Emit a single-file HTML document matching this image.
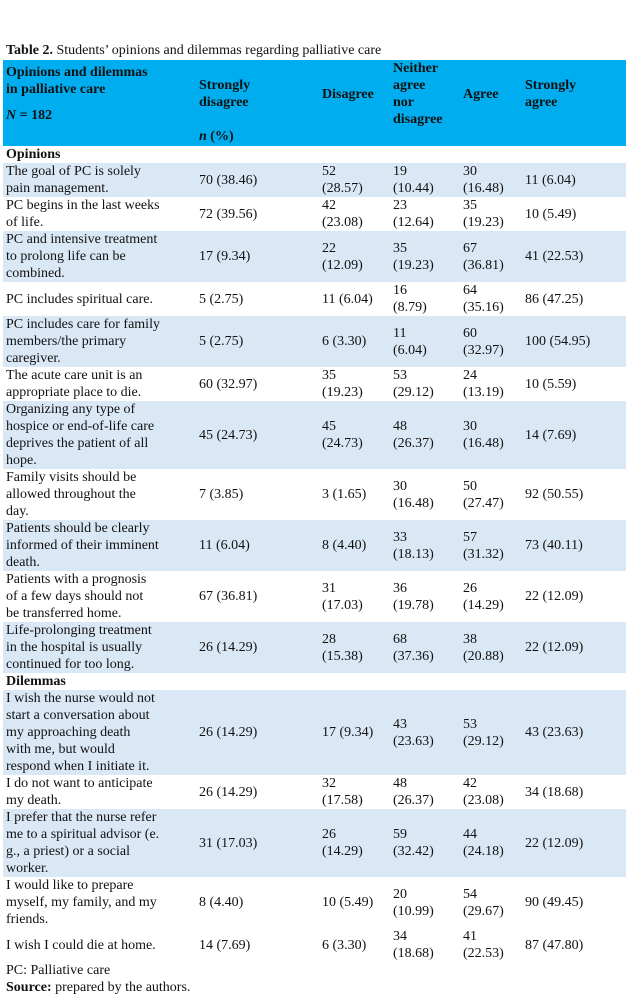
<!DOCTYPE html>
<html><head><meta charset="utf-8">
<style>
body{margin:0;width:630px;height:998px;background:#fff;font-family:"Liberation Serif",serif;font-size:14px;color:#111;position:relative;overflow:hidden}
#title{position:absolute;left:6px;top:42px;line-height:17px}
#hdr{position:absolute;left:3px;top:60px;width:623px;height:86px;background:#00AEEF;font-weight:bold;color:#111}
#hdr span{position:absolute;line-height:17px}
table{position:absolute;left:3px;top:146px;border-collapse:collapse;table-layout:fixed;width:623px}
td{padding:0 0 0 3px;line-height:17px;vertical-align:middle;white-space:nowrap}
tr.s td{background:#DAE8F6}
.sec td{font-weight:bold}
#foot{position:absolute;left:6px;top:962px;line-height:17px}
</style></head><body>
<div id="title"><b>Table 2.</b> Students’ opinions and dilemmas regarding palliative care</div>
<div id="hdr">
<span style="left:3px;top:4px">Opinions and dilemmas<br>in palliative care</span>
<span style="left:3px;top:47px"><i>N</i> = 182</span>
<span style="left:196px;top:17px">Strongly<br>disagree</span>
<span style="left:196px;top:68px"><i>n</i> (%)</span>
<span style="left:319px;top:26px">Disagree</span>
<span style="left:390px;top:0px">Neither<br>agree<br>nor<br>disagree</span>
<span style="left:460px;top:26px">Agree</span>
<span style="left:522px;top:17px">Strongly<br>agree</span>
</div>
<table>
<colgroup><col style="width:193px"><col style="width:123px"><col style="width:71px"><col style="width:70px"><col style="width:62px"><col style="width:104px"></colgroup>
<tr class="sec"><td colspan="6">Opinions</td></tr>
<tr class="s"><td>The goal of PC is solely<br>pain management.</td><td>70 (38.46)</td><td>52<br>(28.57)</td><td>19<br>(10.44)</td><td>30<br>(16.48)</td><td>11 (6.04)</td></tr>
<tr><td>PC begins in the last weeks<br>of life.</td><td>72 (39.56)</td><td>42<br>(23.08)</td><td>23<br>(12.64)</td><td>35<br>(19.23)</td><td>10 (5.49)</td></tr>
<tr class="s"><td>PC and intensive treatment<br>to prolong life can be<br>combined.</td><td>17 (9.34)</td><td>22<br>(12.09)</td><td>35<br>(19.23)</td><td>67<br>(36.81)</td><td>41 (22.53)</td></tr>
<tr><td>PC includes spiritual care.</td><td>5 (2.75)</td><td>11 (6.04)</td><td>16<br>(8.79)</td><td>64<br>(35.16)</td><td>86 (47.25)</td></tr>
<tr class="s"><td>PC includes care for family<br>members/the primary<br>caregiver.</td><td>5 (2.75)</td><td>6 (3.30)</td><td>11<br>(6.04)</td><td>60<br>(32.97)</td><td>100 (54.95)</td></tr>
<tr><td>The acute care unit is an<br>appropriate place to die.</td><td>60 (32.97)</td><td>35<br>(19.23)</td><td>53<br>(29.12)</td><td>24<br>(13.19)</td><td>10 (5.59)</td></tr>
<tr class="s"><td>Organizing any type of<br>hospice or end-of-life care<br>deprives the patient of all<br>hope.</td><td>45 (24.73)</td><td>45<br>(24.73)</td><td>48<br>(26.37)</td><td>30<br>(16.48)</td><td>14 (7.69)</td></tr>
<tr><td>Family visits should be<br>allowed throughout the<br>day.</td><td>7 (3.85)</td><td>3 (1.65)</td><td>30<br>(16.48)</td><td>50<br>(27.47)</td><td>92 (50.55)</td></tr>
<tr class="s"><td>Patients should be clearly<br>informed of their imminent<br>death.</td><td>11 (6.04)</td><td>8 (4.40)</td><td>33<br>(18.13)</td><td>57<br>(31.32)</td><td>73 (40.11)</td></tr>
<tr><td>Patients with a prognosis<br>of a few days should not<br>be transferred home.</td><td>67 (36.81)</td><td>31<br>(17.03)</td><td>36<br>(19.78)</td><td>26<br>(14.29)</td><td>22 (12.09)</td></tr>
<tr class="s"><td>Life-prolonging treatment<br>in the hospital is usually<br>continued for too long.</td><td>26 (14.29)</td><td>28<br>(15.38)</td><td>68<br>(37.36)</td><td>38<br>(20.88)</td><td>22 (12.09)</td></tr>
<tr class="sec"><td colspan="6">Dilemmas</td></tr>
<tr class="s"><td>I wish the nurse would not<br>start a conversation about<br>my approaching death<br>with me, but would<br>respond when I initiate it.</td><td>26 (14.29)</td><td>17 (9.34)</td><td>43<br>(23.63)</td><td>53<br>(29.12)</td><td>43 (23.63)</td></tr>
<tr><td>I do not want to anticipate<br>my death.</td><td>26 (14.29)</td><td>32<br>(17.58)</td><td>48<br>(26.37)</td><td>42<br>(23.08)</td><td>34 (18.68)</td></tr>
<tr class="s"><td>I prefer that the nurse refer<br>me to a spiritual advisor (e.<br>g., a priest) or a social<br>worker.</td><td>31 (17.03)</td><td>26<br>(14.29)</td><td>59<br>(32.42)</td><td>44<br>(24.18)</td><td>22 (12.09)</td></tr>
<tr><td>I would like to prepare<br>myself, my family, and my<br>friends.</td><td>8 (4.40)</td><td>10 (5.49)</td><td>20<br>(10.99)</td><td>54<br>(29.67)</td><td>90 (49.45)</td></tr>
<tr><td>I wish I could die at home.</td><td>14 (7.69)</td><td>6 (3.30)</td><td>34<br>(18.68)</td><td>41<br>(22.53)</td><td>87 (47.80)</td></tr>
</table>
<div id="foot">PC: Palliative care<br><b>Source:</b> prepared by the authors.</div>
</body></html>
